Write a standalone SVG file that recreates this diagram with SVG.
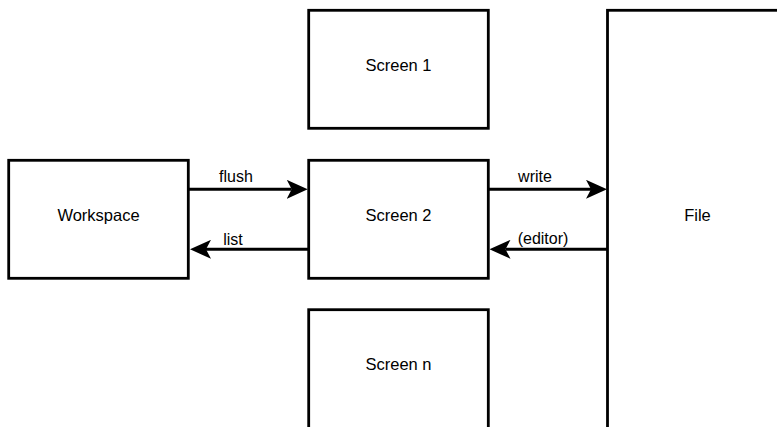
<svg xmlns="http://www.w3.org/2000/svg" width="777" height="427" viewBox="0 0 777 427">
<style>
.box{fill:#fff;stroke:#000;stroke-width:2.8}
.lbl{font-family:"Liberation Sans",Arial,sans-serif;font-size:16.5px;fill:#000;text-anchor:middle}
.elbl{font-family:"Liberation Sans",Arial,sans-serif;font-size:16px;fill:#000;text-anchor:middle}
.edge{fill:none;stroke:#000;stroke-width:3}
</style>
<defs>
<marker id="arr" markerUnits="userSpaceOnUse" viewBox="0 0 21 19" refX="5" refY="9.5" markerWidth="21" markerHeight="19" orient="auto">
<path d="M0,0 L21,9.5 L0,19 L5,9.5 Z" fill="#000"/>
</marker>
</defs>
<rect width="777" height="427" fill="#fff"/>
<g id="workspace">
<rect class="box" x="8.7" y="160.3" width="179.6" height="118"/>
<text class="lbl" x="98.5" y="221">Workspace</text>
</g>
<g id="screen1">
<rect class="box" x="308.7" y="10.3" width="179.6" height="118"/>
<text class="lbl" x="398.5" y="71">Screen 1</text>
</g>
<g id="screen2">
<rect class="box" x="308.7" y="160.3" width="179.6" height="118"/>
<text class="lbl" x="398.5" y="221">Screen 2</text>
</g>
<g id="screenn">
<rect class="box" x="308.7" y="309.7" width="179.6" height="140"/>
<text class="lbl" x="398.5" y="370">Screen n</text>
</g>
<g id="file">
<rect class="box" x="607.5" y="10.3" width="180" height="440"/>
<text class="lbl" x="697.5" y="221">File</text>
</g>
<g id="connectors">
<line class="edge" x1="188.3" y1="189.3" x2="291.7" y2="189.3" marker-end="url(#arr)"/>
<text class="elbl" x="236" y="182">flush</text>
<line class="edge" x1="308.7" y1="249.3" x2="206" y2="249.3" marker-end="url(#arr)"/>
<text class="elbl" x="233" y="245">list</text>
<line class="edge" x1="488.3" y1="189.3" x2="591" y2="189.3" marker-end="url(#arr)"/>
<text class="elbl" x="535" y="182">write</text>
<line class="edge" x1="607.5" y1="249.3" x2="505.5" y2="249.3" marker-end="url(#arr)"/>
<text class="elbl" x="543" y="244">(editor)</text>
</g>
</svg>
